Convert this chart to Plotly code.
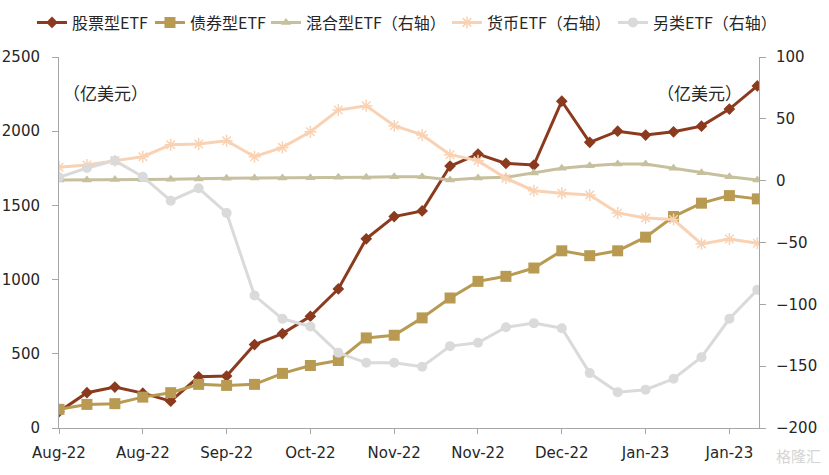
import plotly.graph_objects as go

x_idx = list(range(26))
tick_pos = [0, 3, 6, 9, 12, 15, 18, 21, 24]
tick_text = ["Aug-22", "Aug-22", "Sep-22", "Oct-22", "Nov-22", "Nov-22", "Dec-22", "Jan-23", "Jan-23"]

stock = [110, 238, 276, 235, 181, 345, 350, 562, 636, 753, 937, 1275, 1425, 1463,
         1765, 1846, 1783, 1772, 2202, 1925, 2000, 1974, 1996, 2034, 2149, 2305]
bond = [126, 159, 164, 208, 238, 294, 287, 294, 368, 421, 455, 607, 625, 742,
        876, 988, 1022, 1078, 1194, 1161, 1194, 1286, 1425, 1515, 1566, 1544]
mixed = [0.5, 0.5, 1.0, 1.0, 1.2, 1.3, 1.9, 2.2, 2.2, 2.4, 2.7, 2.7, 3.2, 3.2,
         0.5, 2.2, 2.7, 6.2, 10.0, 12.1, 13.5, 13.5, 10.0, 6.5, 3.2, 0.5]
money = [10.8, 12.7, 16.2, 19.4, 29.1, 29.6, 32.3, 19.4, 26.9, 39.6, 57.1, 60.6, 44.4, 37.0,
         21.0, 16.2, 1.9, -8.1, -10.2, -11.6, -26.1, -30.1, -31.4, -51.1, -47.1, -50.6]
other = [2.7, 10.2, 16.2, 3.2, -16.2, -6.2, -26.1, -92.9, -111.7, -117.9, -139.2, -147.3, -147.3, -150.5,
         -133.8, -131.1, -118.5, -115.2, -119.3, -155.6, -171.0, -169.0, -160.2, -142.7, -111.7, -88.3]

names = ["股票型ETF", "债券型ETF", "混合型ETF（右轴）", "货币ETF（右轴）", "另类ETF（右轴）"]
FONT = "Noto Sans CJK SC, Noto Sans, sans-serif"
TICKFONT = "DejaVu Sans, sans-serif"

fig = go.Figure()
fig.add_trace(go.Scatter(x=x_idx, y=stock, name=names[0], mode="lines+markers", legendwidth=73,
                         line=dict(color="#8B3A1E", width=3),
                         marker=dict(symbol="diamond", size=9, color="#8B3A1E")))
fig.add_trace(go.Scatter(x=x_idx, y=bond, name=names[1], mode="lines+markers", legendwidth=71,
                         line=dict(color="#B89A52", width=3),
                         marker=dict(symbol="square", size=11, color="#B89A52")))
fig.add_trace(go.Scatter(x=x_idx, y=mixed, name=names[2], mode="lines+markers", yaxis="y2",
                         legendwidth=136,
                         line=dict(color="#C6C09E", width=3),
                         marker=dict(symbol="triangle-up", size=9, color="#C6C09E")))
fig.add_trace(go.Scatter(x=x_idx, y=money, name=names[3], mode="lines+markers", yaxis="y2",
                         legendwidth=121,
                         line=dict(color="#F9D2B4", width=3),
                         marker=dict(symbol="asterisk-open", size=10,
                                     line=dict(color="#F5C4A0", width=1.5))))
fig.add_trace(go.Scatter(x=x_idx, y=other, name=names[4], mode="lines+markers", yaxis="y2",
                         legendwidth=115,
                         line=dict(color="#DADADA", width=3),
                         marker=dict(symbol="circle", size=10, color="#DADADA")))

axis_common = dict(showgrid=False, zeroline=False, showline=True, linecolor="#A6A6A6",
                   linewidth=1, ticks="outside", tickcolor="#A6A6A6",
                   automargin=False,
                   tickfont=dict(family=TICKFONT, size=15, color="#262626"))

fig.update_layout(
    width=829, height=475,
    margin=dict(l=59, r=70, t=57, b=47, autoexpand=False),
    paper_bgcolor="white", plot_bgcolor="white",
    font=dict(family=FONT, size=15, color="#262626"),
    xaxis=dict(range=[0, 25.06], tickmode="array", tickvals=tick_pos, ticktext=tick_text,
               ticklen=5, ticklabelstandoff=6, **axis_common),
    yaxis=dict(range=[0, 2500], tickvals=[0, 500, 1000, 1500, 2000, 2500],
               ticklen=6, ticklabelstandoff=9, **axis_common),
    yaxis2=dict(range=[-200, 100], tickvals=[-200, -150, -100, -50, 0, 50, 100],
                overlaying="y", side="right", ticklen=6, ticklabelstandoff=7, **axis_common),
    legend=dict(orientation="h", x=-0.0386, y=1.1388, xanchor="left", yanchor="top",
                font=dict(family=FONT, size=16, color="#262626"),
                itemwidth=30, tracegroupgap=0, bgcolor="rgba(0,0,0,0)"),
    showlegend=True,
    annotations=[
        dict(text="（亿美元）", xref="paper", yref="paper", x=0.0671, y=0.903,
             xanchor="center", yanchor="middle", showarrow=False,
             font=dict(family=FONT, size=17, color="#262626")),
        dict(text="（亿美元）", xref="paper", yref="paper", x=0.915, y=0.903,
             xanchor="center", yanchor="middle", showarrow=False,
             font=dict(family=FONT, size=17, color="#262626")),
        dict(text="格隆汇", xref="paper", yref="paper", x=1.057, y=-0.075,
             xanchor="center", yanchor="middle", showarrow=False,
             font=dict(family=FONT, size=15, color="#D4D4D4")),
    ],
)

fig.write_html("out.html", config={"displayModeBar": False},
               post_script="document.body.style.margin='0px';")
